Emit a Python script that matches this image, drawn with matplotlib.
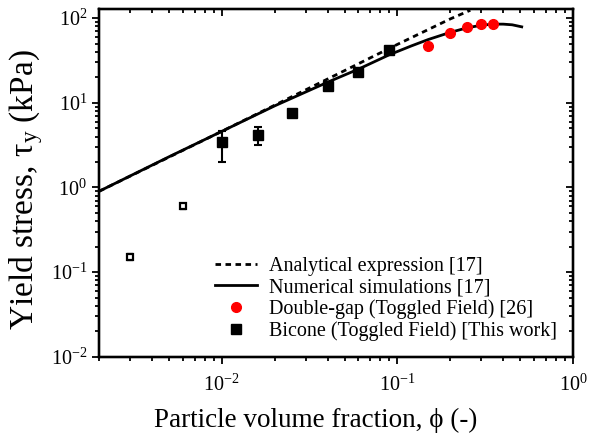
import matplotlib
matplotlib.use("Agg")
import matplotlib.pyplot as plt
from matplotlib.lines import Line2D

plt.rcParams['font.family'] = ['Liberation Serif', 'DejaVu Serif']
plt.rcParams['mathtext.fontset'] = 'custom'
plt.rcParams['mathtext.rm'] = 'Liberation Serif'
plt.rcParams['mathtext.it'] = 'Liberation Serif:italic'
plt.rcParams['axes.linewidth'] = 1.6

# analytical expression [17]
phi_an = [0.002, 0.01, 0.05, 0.1, 0.2, 0.26]
tau_an = [0.9, 4.6, 24, 49, 98, 124]

# numerical simulations [17]
phi_num = [0.002, 0.005, 0.01, 0.02, 0.04, 0.06, 0.09, 0.12, 0.15, 0.2, 0.25, 0.3, 0.35, 0.4, 0.45, 0.51]
tau_num = [0.9, 2.3, 4.6, 9.2, 17.5, 25, 37, 47, 56, 68, 77, 82.5, 85, 85, 83.5, 79]

# double-gap (toggled field) [26]
phi_dg = [0.15, 0.2, 0.25, 0.3, 0.35]
tau_dg = [47, 66, 78, 85, 85]

# bicone (toggled field), this work
phi_bc = [0.01, 0.016, 0.025, 0.04, 0.06, 0.09]
tau_bc = [3.4, 4.2, 7.5, 16, 23, 42]
err_lo = [1.4, 1.05, 0, 0, 0, 0]
err_hi = [1.3, 1.05, 0, 0, 0, 0]

# low fraction bicone points (open)
phi_bc_low = [0.003, 0.006]
tau_bc_low = [0.15, 0.6]
err_low = [0.012, 0.04]

fig = plt.figure(figsize=(5.89, 4.33), dpi=100)
ax = fig.add_axes([0.168, 0.176, 0.805, 0.803])

ax.plot(phi_an, tau_an, color='black', lw=2, linestyle=(0, (2, 1.6)))
ax.plot(phi_num, tau_num, color='black', lw=2)
ax.plot(phi_dg, tau_dg, 'o', color='red', ms=7, mec='red', ls='none')
ax.errorbar(phi_bc, tau_bc, yerr=[err_lo, err_hi], fmt='s', color='black', ms=6.5,
            capsize=3, elinewidth=1.5, capthick=1.5)
ax.errorbar(phi_bc_low, tau_bc_low, yerr=err_low, fmt='s', mfc='white', mec='black',
            ecolor='black', ms=5, mew=1.6, capsize=2.5, elinewidth=1.2, capthick=1.2)

ax.set_xscale('log')
ax.set_yscale('log')
ax.set_xlim(0.002, 1)
ax.set_ylim(0.01, 128)

ax.tick_params(which='both', direction='out', labelsize=14.5, width=1.3)
ax.tick_params(which='major', length=5)
ax.tick_params(which='minor', length=3)
ax.tick_params(axis='x', which='both', pad=8)

# mirrored ticks on top and right
axt = ax.twiny()
axt.set_xscale('log')
axt.set_xlim(ax.get_xlim())
axt.tick_params(which='both', direction='in', labeltop=False, width=1.3)
axt.tick_params(which='major', length=5)
axt.tick_params(which='minor', length=3)
axr = ax.twinx()
axr.set_yscale('log')
axr.set_ylim(ax.get_ylim())
axr.tick_params(which='both', direction='in', labelright=False, width=1.3)
axr.tick_params(which='major', length=5)
axr.tick_params(which='minor', length=3)

ax.set_xlabel('Particle volume fraction, \u03d5 (-)', fontsize=19.5)
ax.set_ylabel('Yield stress, \u03c4$_\\mathrm{y}$ (kPa)', fontsize=24)
ax.xaxis.set_label_coords(0.457, -0.148)
ax.yaxis.set_label_coords(-0.113, 0.48)

handles = [
    Line2D([], [], color='black', lw=2, linestyle=(0, (2, 1.6))),
    Line2D([], [], color='black', lw=2),
    Line2D([], [], marker='o', color='red', ms=7, ls='none'),
    Line2D([], [], marker='s', color='black', ms=6.5, ls='none'),
]
labels = ['Analytical expression [17]', 'Numerical simulations [17]',
          'Double-gap (Toggled Field) [26]', 'Bicone (Toggled Field) [This work]']
axr.legend(handles, labels, loc='lower right', frameon=False, fontsize=14.5,
           handlelength=2.1, handletextpad=0.6, labelspacing=0.1,
           borderaxespad=0.5, borderpad=0.3)

fig.savefig('out.png', dpi=100)
